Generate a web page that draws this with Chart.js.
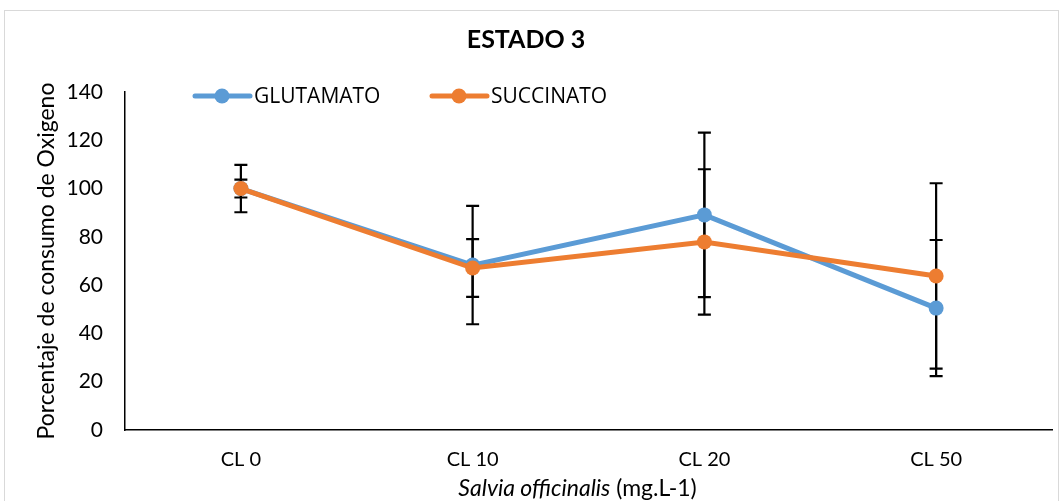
<!DOCTYPE html>
<html>
<head>
<meta charset="utf-8">
<script src="https://cdn.jsdelivr.net/npm/chart.js@4/dist/chart.umd.min.js"></script>
<style>
  html, body { margin: 0; padding: 0; background: #fff; }
  #wrap { position: relative; width: 1063px; height: 501px; }
  #frame { position: absolute; left: 4px; top: 10px; width: 1055px; height: 495px; border: 1px solid #d9d9d9; box-sizing: border-box; }
  #xtitle { position: absolute; left: 0; top: 473px; width: 1155px; text-align: center; font-family: Lato, sans-serif; font-size: 23px; color: #000; }
</style>
</head>
<body>
<div id="wrap">
  <div id="frame"></div>
  <canvas id="chart" width="1063" height="501"></canvas>
  <div id="xtitle"><i>Salvia officinalis</i> (mg.L-1)</div>
</div>
<script>
// data
const categories = ['CL 0', 'CL 10', 'CL 20', 'CL 50'];
const glutamato = [100, 68.3, 89.1, 50.5];
const glutamatoErr = [3.7, 24.5, 34.1, 28.2];
const succinato = [100, 67.1, 77.9, 63.8];
const succinatoErr = [9.8, 12, 30.1, 38.4];
const seriesNames = ['GLUTAMATO', 'SUCCINATO'];
const seriesColors = ['#5B9BD5', '#ED7D31'];

// error bars, drawn under the lines like in Excel
const errorBars = {
    id: 'errorBars',
    beforeDatasetsDraw(chart) {
        const ctx = chart.ctx;
        const y = chart.scales.y;
        ctx.save();
        ctx.strokeStyle = '#000';
        ctx.lineWidth = 2.2;
        chart.data.datasets.forEach((ds, i) => {
            const meta = chart.getDatasetMeta(i);
            meta.data.forEach((pt, j) => {
                const v = ds.data[j], e = ds.errors[j];
                const top = y.getPixelForValue(v + e);
                const bot = y.getPixelForValue(v - e);
                ctx.beginPath();
                ctx.moveTo(pt.x, top); ctx.lineTo(pt.x, bot);
                ctx.moveTo(pt.x - 6.5, top); ctx.lineTo(pt.x + 6.5, top);
                ctx.moveTo(pt.x - 6.5, bot); ctx.lineTo(pt.x + 6.5, bot);
                ctx.stroke();
            });
        });
        ctx.restore();
    }
};

// legend: line + marker, inside the top left of the plot
const lineLegend = {
    id: 'lineLegend',
    afterDraw(chart) {
        const ctx = chart.ctx;
        const items = [{ x: 195, name: seriesNames[0], color: seriesColors[0] },
                       { x: 432, name: seriesNames[1], color: seriesColors[1] }];
        const yy = 96;
        ctx.save();
        items.forEach(it => {
            ctx.strokeStyle = it.color;
            ctx.lineWidth = 5;
            ctx.lineCap = 'round';
            ctx.beginPath();
            ctx.moveTo(it.x, yy); ctx.lineTo(it.x + 55, yy);
            ctx.stroke();
            ctx.fillStyle = it.color;
            ctx.beginPath();
            ctx.arc(it.x + 27, yy, 7.5, 0, Math.PI * 2);
            ctx.fill();
            ctx.fillStyle = '#000';
            ctx.font = '21px "Open Sans", sans-serif';
            ctx.textBaseline = 'middle';
            ctx.fillText(it.name, it.x + 59, yy + 1);
        });
        ctx.restore();
    }
};

const ctx = document.getElementById('chart');
new Chart(ctx, {
    type: 'line',
    data: {
        labels: categories,
        datasets: [{
            label: seriesNames[0],
            data: glutamato,
            errors: glutamatoErr,
            borderColor: seriesColors[0],
            backgroundColor: seriesColors[0],
            borderWidth: 5,
            pointRadius: 7.5,
            pointBorderWidth: 0,
            tension: 0,
            order: 1
        }, {
            label: seriesNames[1],
            data: succinato,
            errors: succinatoErr,
            borderColor: seriesColors[1],
            backgroundColor: seriesColors[1],
            borderWidth: 5,
            pointRadius: 7.5,
            pointBorderWidth: 0,
            tension: 0,
            order: 0
        }]
    },
    options: {
        responsive: false,
        animation: false,
        layout: { padding: { left: 0, right: 11, top: 0, bottom: 0 } },
        plugins: {
            legend: { display: false },
            tooltip: { enabled: false },
            title: {
                display: true,
                text: 'ESTADO 3',
                color: '#000',
                font: { family: 'Lato', size: 25, weight: 'bold' },
                padding: { top: 25, bottom: 37 }
            }
        },
        scales: {
            x: {
                offset: true,
                grid: { display: false },
                border: { display: true, color: '#000', width: 1.5 },
                ticks: { color: '#000', padding: 10, font: { family: 'Lato', size: 20 } },
                afterFit(scale) { scale.height = 71; }
            },
            y: {
                min: 0,
                max: 140,
                grid: { display: false },
                border: { display: true, color: '#000', width: 1.5 },
                ticks: { stepSize: 20, color: '#000', padding: 14, font: { family: 'Lato', size: 21 } },
                title: {
                    display: true,
                    text: 'Porcentaje de consumo de Oxigeno',
                    color: '#000',
                    font: { family: 'Lato', size: 23 },
                    padding: { top: 33 }
                },
                afterFit(scale) { scale.width = 125; }
            }
        }
    },
    plugins: [errorBars, lineLegend]
});
</script>
</body>
</html>
